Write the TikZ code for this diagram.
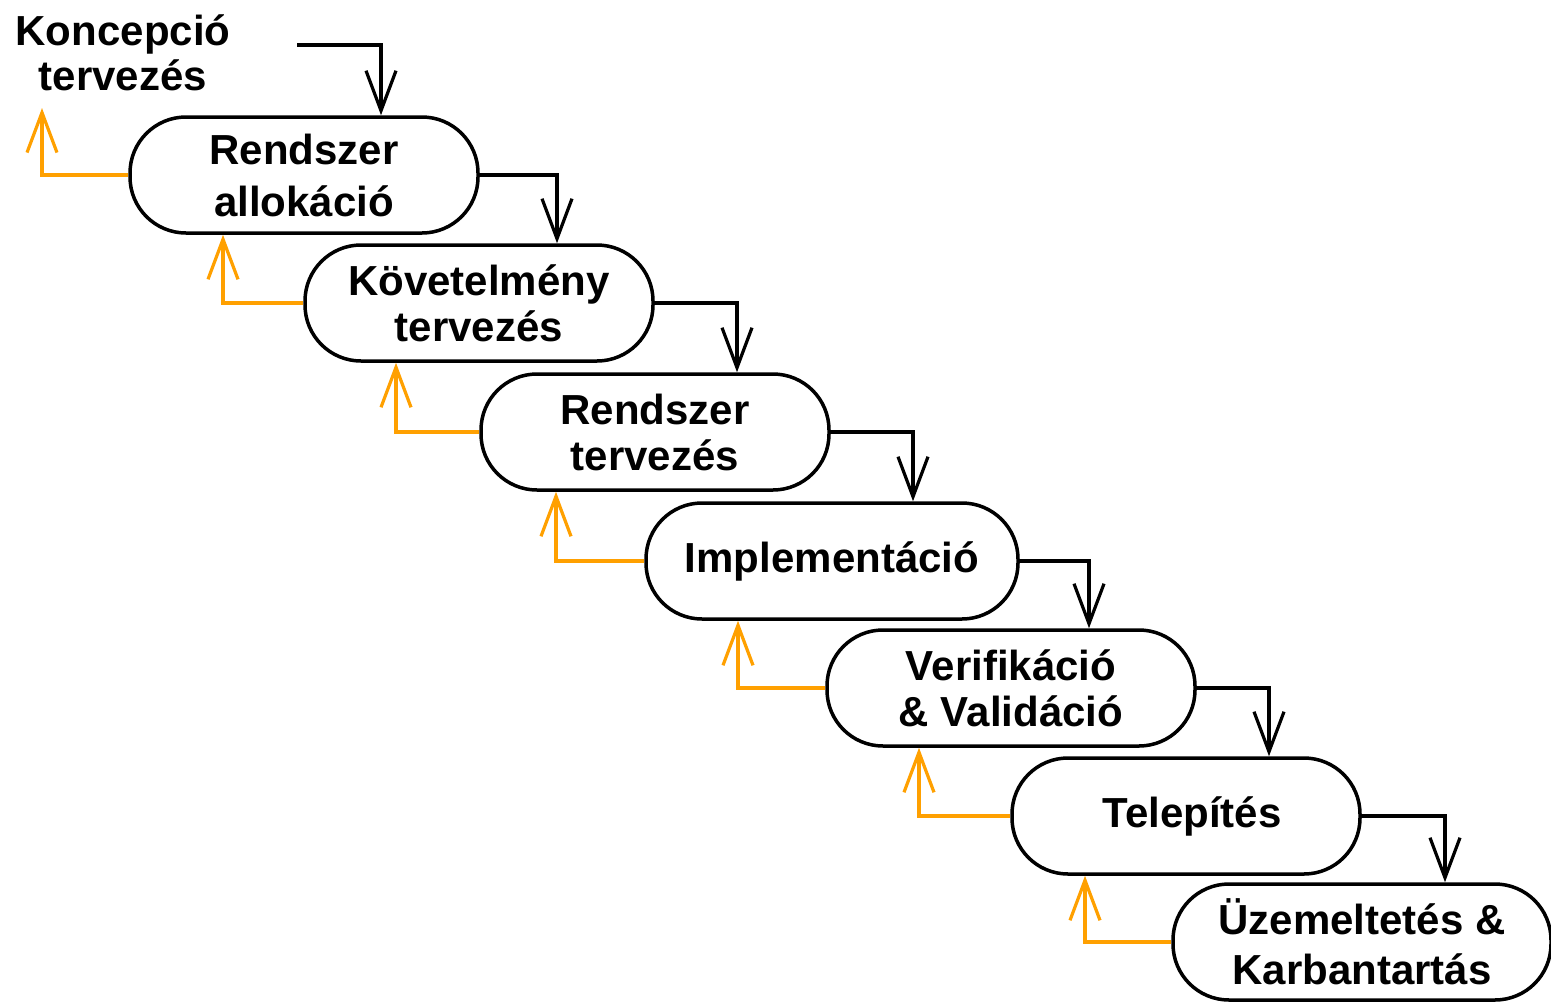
\documentclass[tikz,border=0pt]{standalone}
\usepackage{fontspec}
\setmainfont{Liberation Sans}
\usetikzlibrary{arrows.meta}
\definecolor{fborange}{RGB}{255,160,0}
\tikzset{
  phase/.style={draw=black, line width=3.5pt, rounded corners=56pt, minimum height=116pt,
    inner sep=0pt, align=center, font=\fontsize{42}{46}\selectfont\bfseries},
  lbl/.style={align=center, font=\fontsize{42}{45}\selectfont\bfseries},
  fwd/.style={draw=black, line width=3.2pt, -{Straight Barb[length=40pt,width=30pt,line width=3.2pt]}},
  bwd/.style={draw=fborange, line width=3.2pt, -{Straight Barb[length=40pt,width=30pt,line width=3.2pt]}}
}
\begin{document}
\begin{tikzpicture}[x=1pt,y=-1pt]
\useasboundingbox (0,0) rectangle (1551,1002);
\node[phase, minimum width=348pt] (b1) at (304,175) {Rendszer\\[6pt]allokáció};
\node[phase, minimum width=348pt] (b2) at (479,303) {Követelmény\\tervezés};
\node[phase, minimum width=348pt] (b3) at (655,432) {Rendszer\\tervezés};
\node[phase, minimum width=372pt] (b4) at (832,561) {Implementáció};
\node[phase, minimum width=368pt] (b5) at (1011,688) {Verifikáció\\\& Validáció};
\node[phase, minimum width=348pt] (b6) at (1186,816) {\hspace*{12pt}Telepítés};
\node[phase, minimum width=378pt] (b7) at (1362,942) {Üzemeltetés \&\\[4pt]Karbantartás};
\node[lbl] (k) at (123,53) {Koncepció\\tervezés};
% coordinates
\coordinate (s0) at (297,45);
\coordinate (x1) at (381,0);
\coordinate (x2) at (557,0);
\coordinate (x3) at (737,0);
\coordinate (x4) at (913,0);
\coordinate (x5) at (1089,0);
\coordinate (x6) at (1269,0);
\coordinate (x7) at (1445,0);
\coordinate (e0) at (42,108);
\coordinate (o2) at (223,0);
\coordinate (o3) at (396,0);
\coordinate (o4) at (556,0);
\coordinate (o5) at (738,0);
\coordinate (o6) at (919,0);
\coordinate (o7) at (1085,0);
% forward arrows
\draw[fwd] (s0) -| (b1.north -| x1);
\draw[fwd] (b1.east) -| (b2.north -| x2);
\draw[fwd] (b2.east) -| (b3.north -| x3);
\draw[fwd] (b3.east) -| (b4.north -| x4);
\draw[fwd] (b4.east) -| (b5.north -| x5);
\draw[fwd] (b5.east) -| (b6.north -| x6);
\draw[fwd] (b6.east) -| (b7.north -| x7);
% backward arrows
\draw[bwd] (b1.west) -| (e0);
\draw[bwd] (b2.west) -| (b1.south -| o2);
\draw[bwd] (b3.west) -| (b2.south -| o3);
\draw[bwd] (b4.west) -| (b3.south -| o4);
\draw[bwd] (b5.west) -| (b4.south -| o5);
\draw[bwd] (b6.west) -| (b5.south -| o6);
\draw[bwd] (b7.west) -| (b6.south -| o7);
\end{tikzpicture}
\end{document}
